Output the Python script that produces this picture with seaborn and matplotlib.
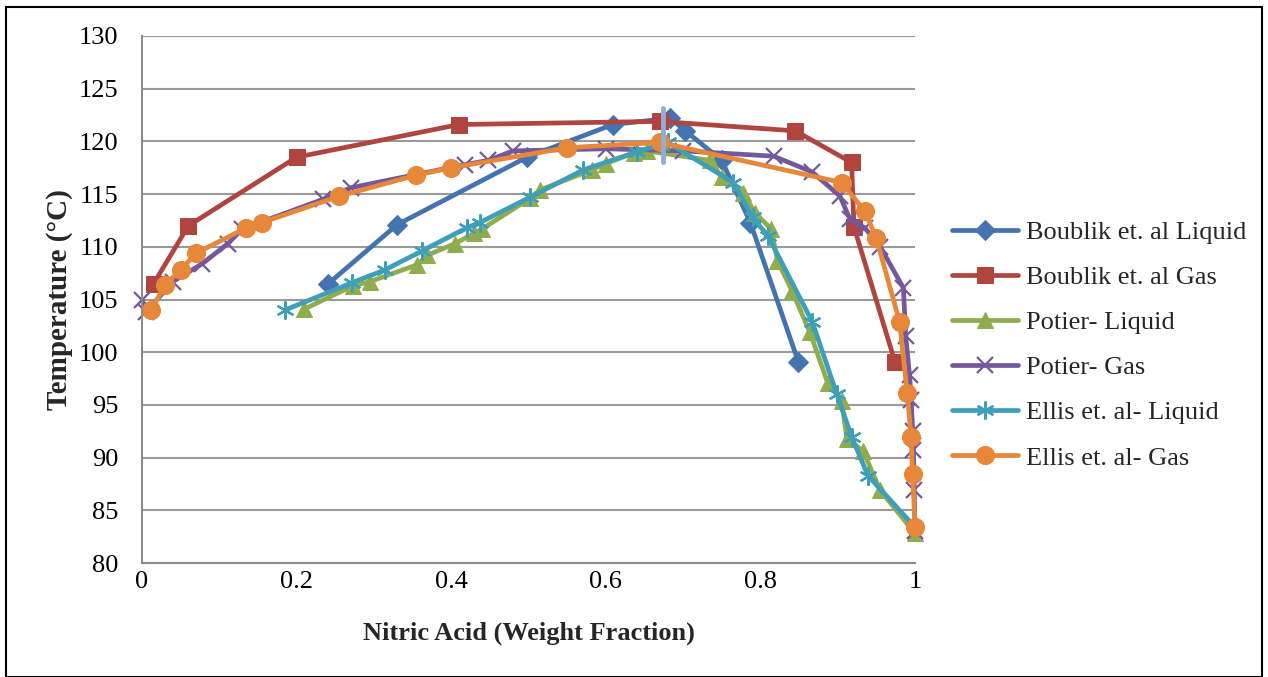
import matplotlib
matplotlib.use("Agg")
import matplotlib.pyplot as plt
import seaborn as sns
import pandas as pd
from matplotlib.patches import Rectangle

# ---------------- data ----------------
boublik_liq_x = [0.241, 0.330, 0.498, 0.609, 0.683, 0.703, 0.750, 0.787, 0.849]
boublik_liq_y = [106.5, 112.1, 118.5, 121.6, 122.2, 121.0, 118.2, 112.3, 99.1]

boublik_gas_x = [0.015, 0.060, 0.200, 0.410, 0.670, 0.845, 0.918, 0.921, 0.974]
boublik_gas_y = [106.5, 112.0, 118.5, 121.6, 121.9, 121.0, 118.0, 111.9, 99.1]

potier_liq_x = [0.210, 0.273, 0.295, 0.356, 0.369, 0.405, 0.430, 0.440, 0.502, 0.515,
                0.582, 0.600, 0.636, 0.653, 0.735, 0.750, 0.778, 0.793, 0.814, 0.822,
                0.841, 0.864, 0.887, 0.905, 0.912, 0.933, 0.955, 1.000]
potier_liq_y = [104.1, 106.3, 106.7, 108.3, 109.2, 110.3, 111.3, 111.7, 114.6, 115.4,
                117.3, 117.9, 118.9, 119.1, 118.2, 116.6, 115.1, 113.2, 111.7, 108.7,
                105.8, 101.9, 97.1, 95.4, 91.8, 90.6, 86.9, 82.8]

potier_gas_x = [0.000, 0.005, 0.040, 0.078, 0.111, 0.130, 0.234, 0.270, 0.418, 0.448,
                0.480, 0.600, 0.700, 0.817, 0.867, 0.903, 0.916, 0.935, 0.955, 0.985,
                0.988, 0.993, 0.995, 0.997, 0.998, 0.999, 1.000]
potier_gas_y = [105.0, 103.8, 106.7, 108.4, 110.3, 111.7, 114.5, 115.6, 117.8, 118.2,
                119.1, 119.3, 119.1, 118.6, 117.1, 114.8, 112.6, 111.8, 110.0, 106.1,
                101.5, 97.8, 95.5, 92.5, 90.7, 86.9, 83.0]

ellis_liq_x = [0.185, 0.272, 0.314, 0.362, 0.420, 0.437, 0.502, 0.571, 0.640, 0.680,
               0.765, 0.790, 0.810, 0.867, 0.899, 0.918, 0.939, 1.000]
ellis_liq_y = [104.0, 106.6, 107.8, 109.6, 111.8, 112.3, 114.7, 117.3, 119.0, 119.9,
               116.1, 112.8, 111.0, 102.9, 96.0, 92.0, 88.3, 83.4]

ellis_gas_x = [0.012, 0.030, 0.050, 0.070, 0.135, 0.155, 0.255, 0.355, 0.400, 0.550,
               0.670, 0.905, 0.935, 0.950, 0.980, 0.990, 0.995, 0.997, 1.000]
ellis_gas_y = [104.0, 106.4, 107.8, 109.4, 111.8, 112.3, 114.8, 116.8, 117.5, 119.4,
               119.9, 116.1, 113.4, 110.8, 102.9, 96.1, 92.0, 88.4, 83.4]

azeo_x = [0.674, 0.674]
azeo_y = [118.0, 123.2]

labels = ["Boublik et. al Liquid", "Boublik et. al Gas", "Potier- Liquid",
          "Potier- Gas", "Ellis et. al- Liquid", "Ellis et. al- Gas"]
x_ticks = [0, 0.2, 0.4, 0.6, 0.8, 1.0]
x_tick_labels = ["0", "0.2", "0.4", "0.6", "0.8", "1"]
y_ticks = [80, 85, 90, 95, 100, 105, 110, 115, 120, 125, 130]

# ---------------- style ----------------
sns.set_theme(style="white")
plt.rcParams["font.family"] = ["Liberation Serif", "DejaVu Serif"]

fig = plt.figure(figsize=(12.68, 6.77), dpi=100)
ax = fig.add_axes([142 / 1268, 1 - 563 / 677, (915 - 142) / 1268, (563 - 36) / 677])

colors = ["#4474B0", "#B0443F", "#8FAD4E", "#73599B", "#3F9EB8", "#E6873A"]
series = [
    (boublik_liq_x, boublik_liq_y, dict(marker="D", markersize=10)),
    (boublik_gas_x, boublik_gas_y, dict(marker="s", markersize=12)),
    (potier_liq_x, potier_liq_y, dict(marker="^", markersize=12)),
    (potier_gas_x, potier_gas_y, dict(marker="x", markersize=11, markeredgewidth=1.6)),
    (ellis_liq_x, ellis_liq_y, dict(marker=(6, 2, 0), markersize=13, markeredgewidth=1.6)),
    (ellis_gas_x, ellis_gas_y, dict(marker="o", markersize=13)),
]

for (xs, ys, mk), col, lab in zip(series, colors, labels):
    df = pd.DataFrame({"x": xs, "y": ys})
    extra = dict(mk)
    extra["markeredgecolor"] = col
    if not (extra["marker"] == "x" or isinstance(extra["marker"], tuple)):
        extra["markerfacecolor"] = col
    sns.lineplot(data=df, x="x", y="y", sort=False, estimator=None, ax=ax,
                 color=col, linewidth=3.4, label=lab, clip_on=False, **extra)

azdf = pd.DataFrame({"x": azeo_x, "y": azeo_y})
sns.lineplot(data=azdf, x="x", y="y", sort=False, estimator=None, ax=ax,
             color="#95ACD3", linewidth=3.5, legend=False, solid_capstyle="round")

ax.set_xlim(0, 1)
ax.set_ylim(80, 130)
ax.set_xticks(x_ticks)
ax.set_xticklabels(x_tick_labels)
ax.set_yticks(y_ticks)
ax.yaxis.grid(True, color="#9A9A9A", linewidth=1.5)
ax.xaxis.grid(False)
ax.set_axisbelow(True)
for s in ["top", "right"]:
    ax.spines[s].set_visible(False)
for s in ["left", "bottom"]:
    ax.spines[s].set_color("#8C8C8C")
    ax.spines[s].set_linewidth(1.5)
ax.tick_params(axis="both", length=0, labelsize=19, colors="black")
ax.tick_params(axis="y", pad=17)
ax.tick_params(axis="x", pad=6)
ax.set_xlabel("Nitric Acid (Weight Fraction)", fontsize=19, fontweight="bold", labelpad=20)
ax.set_ylabel("Temperature (°C)", fontsize=21, fontweight="bold", labelpad=4)

leg = ax.legend(loc="center left", bbox_to_anchor=(928 / 1268, 1 - 345 / 677),
                bbox_transform=fig.transFigure, frameon=False, fontsize=19,
                handlelength=2.5, labelspacing=0.82, handletextpad=0.3)

fig.patches.append(Rectangle((6 / 1268, 0.0), 1256 / 1268, 1 - 7 / 677,
                             transform=fig.transFigure, fill=False,
                             edgecolor="black", linewidth=1.5))

fig.savefig("out.png", dpi=100)
